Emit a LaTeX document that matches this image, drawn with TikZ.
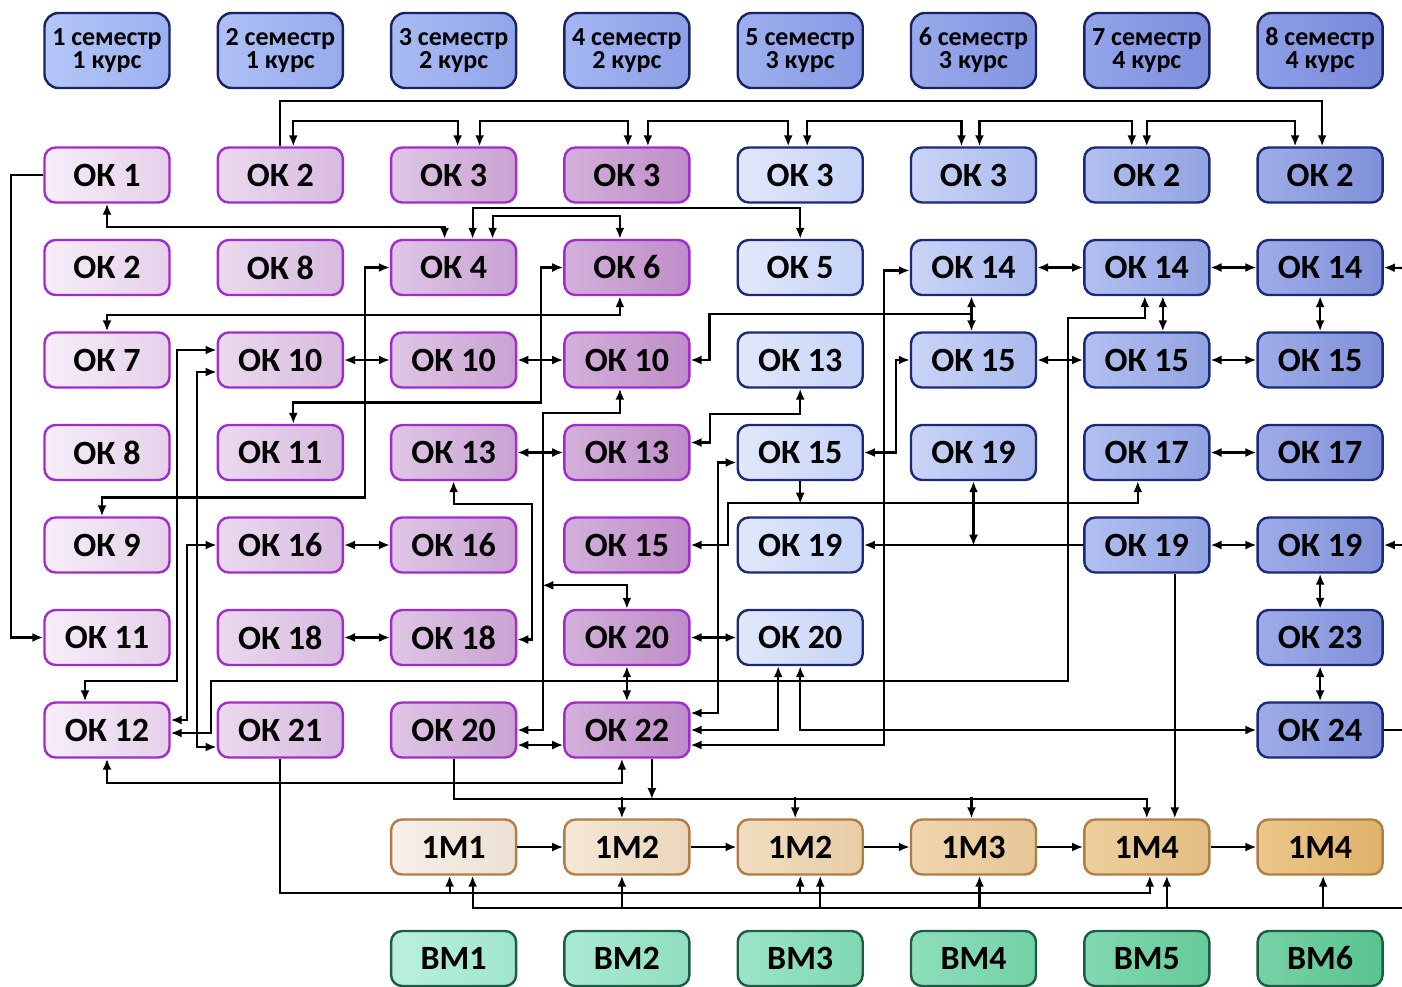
\documentclass[tikz,border=0pt]{standalone}
\usepackage{fontspec}
\setmainfont{Carlito}
\usetikzlibrary{arrows.meta}

\definecolor{hdA}{HTML}{B4C6F8}
\definecolor{hdB}{HTML}{8E9FE8}
\definecolor{hdC}{HTML}{9CB1F0}
\definecolor{hdE}{HTML}{7888DA}
\definecolor{hdD}{HTML}{1A2262}

\definecolor{okL1}{HTML}{F6EEF8}\definecolor{okR1}{HTML}{E6D0EA}
\definecolor{okL2}{HTML}{EADAEE}\definecolor{okR2}{HTML}{D8BADF}
\definecolor{okL3}{HTML}{DFC6E5}\definecolor{okR3}{HTML}{C9A2D2}
\definecolor{okL4}{HTML}{D3B0DA}\definecolor{okR4}{HTML}{BE8DC8}
\definecolor{okL5}{HTML}{E1E8FB}\definecolor{okR5}{HTML}{C6D3F6}
\definecolor{okL6}{HTML}{C9D4F6}\definecolor{okR6}{HTML}{AABAED}
\definecolor{okL7}{HTML}{B2C0F0}\definecolor{okR7}{HTML}{92A3E2}
\definecolor{okL8}{HTML}{9EACE8}\definecolor{okR8}{HTML}{8090D8}
\definecolor{okD1}{HTML}{A12BD0}\colorlet{okD2}{okD1}\colorlet{okD3}{okD1}\colorlet{okD4}{okD1}
\definecolor{okD5}{HTML}{1C2878}\colorlet{okD6}{okD5}\colorlet{okD7}{okD5}\colorlet{okD8}{okD5}

\definecolor{mL3}{HTML}{F6F0EA}\definecolor{mR3}{HTML}{ECE0D2}
\definecolor{mL4}{HTML}{F4E8D6}\definecolor{mR4}{HTML}{EAD6BB}
\definecolor{mL5}{HTML}{F1DEC0}\definecolor{mR5}{HTML}{E8CDA6}
\definecolor{mL6}{HTML}{EFD6AE}\definecolor{mR6}{HTML}{E6C596}
\definecolor{mL7}{HTML}{EDCF9C}\definecolor{mR7}{HTML}{E3BD82}
\definecolor{mL8}{HTML}{EBC78A}\definecolor{mR8}{HTML}{E0B26A}
\definecolor{mD}{HTML}{B07D45}

\definecolor{vL3}{HTML}{BAF0DE}\definecolor{vR3}{HTML}{9FE5CC}
\definecolor{vL4}{HTML}{AAEAD3}\definecolor{vR4}{HTML}{8FDFBF}
\definecolor{vL5}{HTML}{9AE4C7}\definecolor{vR5}{HTML}{80D8B3}
\definecolor{vL6}{HTML}{8EDEBC}\definecolor{vR6}{HTML}{73D1A6}
\definecolor{vL7}{HTML}{82D8B1}\definecolor{vR7}{HTML}{66CA9A}
\definecolor{vL8}{HTML}{76D2A7}\definecolor{vR8}{HTML}{5AC38E}
\definecolor{vD}{HTML}{1D5C45}

\begin{document}
\begin{tikzpicture}[x=1pt,y=-1pt,
  >={Latex[length=11pt,width=9pt]},
  link/.style={line width=2.1pt},
  box/.style={rounded corners=11pt, line width=2.4pt, minimum width=125pt,
    minimum height=55pt, inner sep=0pt, font=\fontsize{34}{38}\selectfont\bfseries},
  semester/.style={box, minimum height=75pt, rounded corners=14pt, align=center,
    draw=hdD, font=\fontsize{26}{23}\selectfont\bfseries}]

\useasboundingbox (0,0) rectangle (1402,986);

\foreach \i in {1,...,8} {
  \pgfmathtruncatemacro\kurs{(\i+1)/2}
  \pgfmathtruncatemacro\p{100-(\i-1)*100/7}
  \node[semester, left color=hdA!\p!hdB, right color=hdC!\p!hdE] (sem\i)
    at ({107+173.3*(\i-1)},50.5) {\i\ семестр\\\kurs\ курс};
}

\foreach \r/\c/\t in {1/1/1,1/2/2,1/3/3,1/4/3,1/5/3,1/6/3,1/7/2,1/8/2,
    2/1/2,2/2/8,2/3/4,2/4/6,2/5/5,2/6/14,2/7/14,2/8/14,
    3/1/7,3/2/10,3/3/10,3/4/10,3/5/13,3/6/15,3/7/15,3/8/15,
    4/1/8,4/2/11,4/3/13,4/4/13,4/5/15,4/6/19,4/7/17,4/8/17,
    5/1/9,5/2/16,5/3/16,5/4/15,5/5/19,5/7/19,5/8/19,
    6/1/11,6/2/18,6/3/18,6/4/20,6/5/20,6/8/23,
    7/1/12,7/2/21,7/3/20,7/4/22,7/8/24}
  \node[box, left color=okL\c, right color=okR\c, draw=okD\c] (ok\r-\c)
    at ({107+173.3*(\c-1)},{82.5+92.5*\r}) {ОК \t};

\foreach \c/\t in {3/1,4/2,5/2,6/3,7/4,8/4}
  \node[box, left color=mL\c, right color=mR\c, draw=mD] (m\c)
    at ({107+173.3*(\c-1)},847) {1М\t};

\foreach \c/\t in {3/1,4/2,5/3,6/4,7/5,8/6}
  \node[box, left color=vL\c, right color=vR\c, draw=vD] (vm\c)
    at ({107+173.3*(\c-1)},958.5) {ВМ\t};

\draw[link,->] (ok1-2.north) -- ++(0,-45.5) -| ([xshift=2pt]ok1-8.north);
\draw[link,<->] ([xshift=13pt]ok1-2.north) -- ++(0,-25.5) -| ([xshift=4pt]ok1-3.north);
\draw[link,<->] ([xshift=26pt]ok1-3.north) -- ++(0,-25.5) -| ([xshift=1pt]ok1-4.north);
\draw[link,<->] ([xshift=21pt]ok1-4.north) -- ++(0,-25.5) -| ([xshift=-12pt]ok1-5.north);
\draw[link,<->] ([xshift=7pt]ok1-5.north) -- ++(0,-25.5) -| ([xshift=-12pt]ok1-6.north);
\draw[link,<->] ([xshift=6pt]ok1-6.north) -- ++(0,-25.5) -| ([xshift=-15pt]ok1-7.north);
\draw[link,<->] (ok1-7.north) -- ++(0,-25.5) -| ([xshift=-25pt]ok1-8.north);

\draw[link,<->] (ok1-1.south) -- ++(0,23.5) -| ([xshift=-9pt]ok2-3.north);
\draw[link,<->] ([xshift=19pt]ok2-3.north) -- ++(0,-30.5) -| (ok2-5.north);
\draw[link,<->] ([xshift=39pt]ok2-3.north) -- ++(0,-22.5) -| ([xshift=-7pt]ok2-4.north);
\draw[link,->] (ok1-1.west) -- ++(-32,0) |- (ok6-1.west);

\draw[link,<->] (ok2-3.west) -- ++(-24.5,0) -- ++(0,230) -| ([xshift=-5pt]ok5-1.north);
\draw[link,<->] (ok2-4.west) -- ++(-22.5,0) -- ++(0,135) -| ([xshift=13pt]ok4-2.north);
\draw[link,<->] ([xshift=-7pt]ok2-4.south) -- ++(0,18.5) -| (ok3-1.north);
\draw[link,<->] ([yshift=-15pt]ok7-4.east) -- ++(193.5,0) |- ([yshift=-3pt]ok2-6.west);
\draw[link,<->] (ok2-6) -- (ok2-7);
\draw[link,<->] (ok2-7) -- (ok2-8);
\coordinate (east1) at (1402,268);
\draw[link,->] (east1) -- (ok2-8.east);

\draw[link,<->] ([xshift=-2pt]ok2-6.south) -- ([xshift=-2pt]ok3-6.north);
\draw[link,->] ([xshift=-2pt]ok3-6.north) ++(0,-17.5) -- ++(-262,0) |- (ok3-4.east);
\draw[link,<->] ([yshift=-3pt]ok7-1.east) -- ++(40.5,0) -- ++(0,-52) -- ++(857,0)
  -- ++(0,-363) -| ([xshift=-2pt]ok2-7.south);
\draw[link,<->] ([xshift=16pt]ok2-7.south) -- ([xshift=16pt]ok3-7.north);
\draw[link,<->] (ok2-8) -- (ok3-8);
\draw[link,<->] (ok3-2) -- (ok3-3);
\draw[link,<->] (ok3-3) -- (ok3-4);
\draw[link,<->] (ok3-6) -- (ok3-7);
\draw[link,<->] (ok3-7) -- (ok3-8);

\draw[link,<->] ([yshift=10pt]ok3-2.west) -- ++(-39.5,0) -- ++(0,331) -| ([xshift=-22pt]ok7-1.north);
\draw[link,<->] ([yshift=-12pt]ok3-2.west) -- ++(-19.5,0) |- ([yshift=-17pt]ok7-2.west);
\draw[link,<->] (ok5-2.west) -- ++(-29.5,0) |- ([yshift=10pt]ok7-1.east);
\draw[link,<->] (ok7-1.south) -- ++(0,24.5) -| ([xshift=-5pt]ok7-4.south);

\draw[link,<->] (ok3-5.south) -- ++(0,25.5) -- ++(-90,0) |- ([yshift=10pt]ok4-4.east);
\draw[link,<->] (ok4-5.east) -- ++(32.5,0) |- (ok3-6.west);
\draw[link,<->] ([yshift=17pt]ok7-4.east) -- ++(27.5,0) |- ([yshift=-10pt]ok4-5.west);
\draw[link,<->] (ok4-3) -- (ok4-4);
\draw[link,<->] (ok4-3.south) -- ++(0,22.5) -- ++(78,0) |- ([yshift=-2pt]ok6-3.east);
\draw[link,<->] (ok7-3.east) -- ++(25.5,0) -- ++(0,-317) -| ([xshift=-7pt]ok3-4.south);
\draw[link,<->] (ok6-4.north) -- ++(0,-23.5) -- ++(-84.5,0);
\draw[link,->] (ok4-5.south) -- ++(0,22.5);
\draw[link,<->] (ok5-4.east) -- ++(37.5,0) -- ++(0,-42) -| ([xshift=-9pt]ok4-7.south);
\draw[link,->] (ok5-7.west) -- (ok5-5.east);
\draw[link,<->] (ok4-6.south) -- ++(0,64.5);
\draw[link,<->] (ok4-7) -- (ok4-8);
\draw[link,<->] (ok5-7) -- (ok5-8);
\coordinate (east2) at (1402,545);
\draw[link,->] (east2) -- (ok5-8.east);
\draw[link,<->] (ok5-8) -- (ok6-8);
\draw[link,<->] (ok6-8) -- (ok7-8);
\coordinate (east3) at (1402,730);
\draw[link] (ok7-8.east) -- (east3);
\draw[link,<->] (ok5-2) -- (ok5-3);
\draw[link,<->] (ok6-2) -- (ok6-3);
\draw[link,<->] (ok6-4) -- (ok6-5);
\draw[link,<->] (ok6-4) -- (ok7-4);
\draw[link,<->] ([xshift=-22pt]ok6-5.south) |- (ok7-4.east);
\draw[link,<->] (ok6-5.south) |- (ok7-8.west);
\draw[link,<->] ([yshift=-15pt]ok7-3.east) -- ([yshift=-15pt]ok7-4.west);

\draw[link,->] (ok7-3.south) -- ++(0,40.5) -| (m7.north);
\foreach \c/\d in {4/-5,5/-5,6/-2}
  \draw[link,->] ([xshift=\d pt]m\c.north) ++(0,-21.5) -- ([xshift=\d pt]m\c.north);
\draw[link,->] ([xshift=25pt]ok7-4.south) -- ++(0,40.5);
\draw[link,->] ([xshift=28pt]ok5-7.south) -- ([xshift=28pt]m7.north);
\draw[link,->] (ok7-2.south) -- ++(0,134.5) -| ([xshift=3pt]m7.south);
\foreach \c/\d in {3/-4,5/0}
  \draw[link,->] ([xshift=\d pt]m\c.south) ++(0,17.5) -- ([xshift=\d pt]m\c.south);
\coordinate (east4) at (1402,908);
\draw[link,->] (east4) -| ([xshift=19pt]m3.south);
\foreach \c/\d in {4/-5,5/20,6/6,7/20,8/3}
  \draw[link,->] ([xshift=\d pt]m\c.south) ++(0,33.5) -- ([xshift=\d pt]m\c.south);
\foreach \a/\b in {3/4,4/5,5/6,6/7,7/8}
  \draw[link,->] (m\a) -- (m\b);

\end{tikzpicture}
\end{document}
